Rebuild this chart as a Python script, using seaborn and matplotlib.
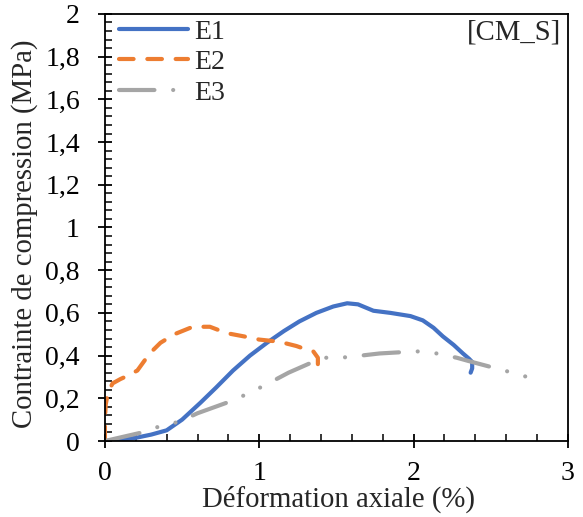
import matplotlib
matplotlib.use("Agg")
import matplotlib.pyplot as plt
import seaborn as sns
import pandas as pd
from matplotlib.ticker import MultipleLocator, FuncFormatter

E1_x = [0, 0.08, 0.2, 0.3, 0.4, 0.5, 0.62, 0.72, 0.83, 0.94, 1.05, 1.16, 1.26, 1.37, 1.48, 1.57, 1.64, 1.74, 1.85, 1.98, 2.06, 2.13, 2.19, 2.26, 2.32, 2.36, 2.38, 2.38, 2.37]
E1_y = [0, 0.003, 0.015, 0.03, 0.05, 0.1, 0.18, 0.25, 0.33, 0.40, 0.46, 0.515, 0.56, 0.60, 0.63, 0.645, 0.64, 0.61, 0.60, 0.585, 0.565, 0.53, 0.49, 0.45, 0.41, 0.385, 0.37, 0.34, 0.32]

E2_x = [0, 0.0, 0.005, 0.02, 0.05, 0.1, 0.13, 0.21, 0.29, 0.36, 0.45, 0.57, 0.68, 0.79, 0.9, 1.0, 1.13, 1.24, 1.3, 1.35, 1.38, 1.38]
E2_y = [0, 0.1, 0.17, 0.23, 0.27, 0.29, 0.30, 0.33, 0.41, 0.46, 0.50, 0.535, 0.535, 0.505, 0.49, 0.475, 0.465, 0.445, 0.43, 0.42, 0.39, 0.36]

E3_x = [0, 0.24, 0.36, 0.48, 0.6, 0.83, 0.95, 1.06, 1.19, 1.41, 1.53, 1.66, 1.78, 2.02, 2.15, 2.28, 2.38, 2.64, 2.76]
E3_y = [0, 0.04, 0.07, 0.09, 0.13, 0.19, 0.23, 0.27, 0.32, 0.39, 0.39, 0.40, 0.41, 0.42, 0.41, 0.39, 0.37, 0.32, 0.295]

series_names = ["E1", "E2", "E3"]
colors = ["#4472C4", "#ED7D31", "#A5A5A5"]

sns.set_style("ticks")
plt.rcParams["font.family"] = ["Liberation Serif", "DejaVu Serif"]

FS = 20
LFS = 20.7

fig = plt.figure(figsize=(5.83, 5.17), dpi=100)
ax = fig.add_axes([0.180, 0.147, 0.794, 0.826])

lw = 3.0
data = {"E1": (E1_x, E1_y), "E2": (E2_x, E2_y), "E3": (E3_x, E3_y)}
for name, col in zip(series_names, colors):
    xs, ys = data[name]
    df = pd.DataFrame({"x": xs, "y": ys})
    sns.lineplot(data=df, x="x", y="y", ax=ax, sort=False, estimator=None,
                 color=col, linewidth=lw, label=name)

lines = ax.get_lines()
lines[0].set_linestyle("-")
lines[0].set_solid_capstyle("round")
lines[0].set_solid_joinstyle("round")
lines[1].set_dashes((3.5, 3.3))
lines[1].set_dash_capstyle("round")
lines[2].set_dashes((8.5, 4.5, 0.01, 4.5, 0.01, 4.5))
lines[2].set_dash_capstyle("round")

ax.set_xlim(0, 3)
ax.set_ylim(0, 2)
ax.xaxis.set_major_locator(MultipleLocator(1))
ax.xaxis.set_minor_locator(MultipleLocator(0.2))
ax.yaxis.set_major_locator(MultipleLocator(0.2))
ax.yaxis.set_minor_locator(MultipleLocator(0.04))
fmt = FuncFormatter(lambda v, p: ("%g" % round(v, 2)).replace(".", ","))
ax.xaxis.set_major_formatter(fmt)
ax.yaxis.set_major_formatter(fmt)

ax.tick_params(which="major", direction="inout", length=10, width=1.3, labelsize=FS, colors="black")
ax.tick_params(which="minor", direction="in", length=5, width=1.3)
ax.tick_params(axis="x", which="major", pad=9.5)
ax.tick_params(axis="y", which="major", pad=13)
for s in ax.spines.values():
    s.set_linewidth(1.3)
    s.set_color("black")
    s.set_visible(True)

ax.set_xlabel("Déformation axiale (%)", fontsize=LFS)
ax.set_ylabel("Contrainte de compression (MPa)", fontsize=LFS)
ax.xaxis.set_label_coords(0.505, -0.1045)
ax.yaxis.set_label_coords(-0.1447, 0.485)

leg = ax.legend(loc="upper left", frameon=False, fontsize=FS, handlelength=2.5,
                handletextpad=0.22, labelspacing=0.18, borderaxespad=0.1,
                bbox_to_anchor=(0.0, 1.02))
ax.text(0.985, 0.988, "[CM_S]", transform=ax.transAxes, ha="right", va="top", fontsize=LFS)

fig.savefig("out.png", dpi=100)
